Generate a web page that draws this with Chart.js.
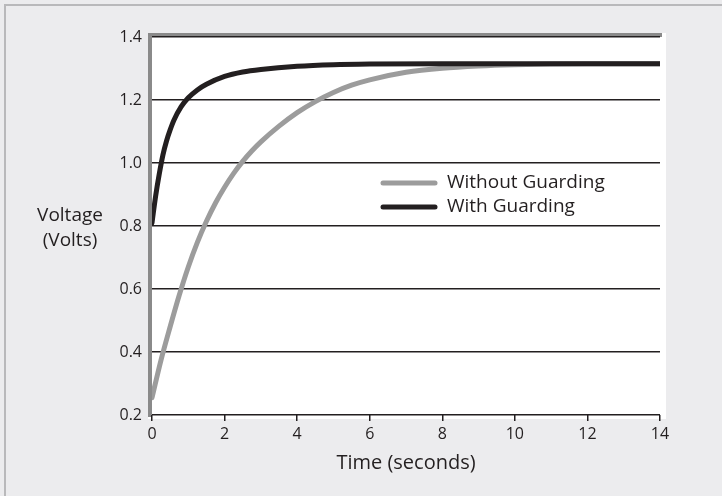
<!DOCTYPE html>
<html>
<head>
<meta charset="utf-8">
<title>Voltage vs Time</title>
<script src="https://cdn.jsdelivr.net/npm/chart.js@4.4.0/dist/chart.umd.min.js"></script>
<style>
  html, body { margin: 0; padding: 0; background: #ececee; }
  #wrap { position: relative; width: 722px; height: 496px; overflow: hidden; }
  #frame { position: absolute; left: 4px; top: 4px; width: 760px; height: 540px;
           border-top: 2px solid #b9b9bb; border-left: 2px solid #b9b9bb; }
  canvas { position: absolute; left: 0; top: 0; }
  #ylabel { position: absolute; left: 20px; width: 100px; top: 202px; text-align: center;
            font: 19px "Open Sans", sans-serif; line-height: 25px; color: #231f20; }
</style>
</head>
<body>
<div id="wrap">
  <div id="frame"></div>
  <canvas id="chart" width="722" height="496"></canvas>
  <div id="ylabel">Voltage<br>(Volts)</div>
</div>
<script>
// Data
const timeWithout = [0, 0.25, 0.5, 0.75, 1, 1.25, 1.5, 1.75, 2, 2.25, 2.5, 2.75, 3, 3.5, 4, 4.5, 5, 5.5, 6, 7, 8, 9, 10, 11, 12, 14];
const voltsWithout = [0.255, 0.375, 0.48, 0.58, 0.67, 0.748, 0.815, 0.873, 0.923, 0.967, 1.005, 1.038, 1.067,
  1.117, 1.16, 1.195, 1.224, 1.247, 1.264, 1.288, 1.301, 1.308, 1.312, 1.314, 1.315, 1.315];

const timeWith = [0, 0.1, 0.2, 0.3, 0.4, 0.5, 0.6, 0.8, 1, 1.25, 1.5, 2, 2.5, 3, 4, 5, 6, 8, 10, 14];
const voltsWith = [0.81, 0.895, 0.965, 1.025, 1.07, 1.105, 1.135, 1.178, 1.207, 1.232, 1.25, 1.275,
  1.289, 1.297, 1.307, 1.312, 1.314, 1.315, 1.315, 1.315];

const seriesLabels = ["Without Guarding", "With Guarding"];
const xTicks = [0, 2, 4, 6, 8, 10, 12, 14];
const yTicks = [0.2, 0.4, 0.6, 0.8, 1.0, 1.2, 1.4];

const ink = "#231f20";
const font = "'Open Sans', sans-serif";

const toPoints = (xs, ys) => xs.map((x, i) => ({ x: x, y: ys[i] }));

// white plot panel with the grey bevel on top and left
const panel = {
  id: "panel",
  beforeDraw(chart) {
    const { ctx, chartArea: a } = chart;
    ctx.save();
    ctx.fillStyle = "#ffffff";
    ctx.fillRect(a.left - 4, a.top - 4, a.right - a.left + 10, a.bottom - a.top + 8);
    ctx.fillStyle = "#8a8a8a";
    ctx.fillRect(a.left - 4, a.top - 4, a.right - a.left + 6, 4);
    ctx.fillRect(a.left - 4, a.top - 4, 4, a.bottom - a.top + 6);
    ctx.restore();
  }
};

// legend drawn inside the plot area
const innerLegend = {
  id: "innerLegend",
  afterDraw(chart) {
    const { ctx, chartArea: a } = chart;
    const x0 = a.left + 231, y0 = a.top + 146;
    ctx.save();
    ctx.font = "19px " + font;
    ctx.textBaseline = "middle";
    ctx.lineCap = "round";
    chart.data.datasets.forEach((ds, i) => {
      const y = y0 + i * 24;
      ctx.strokeStyle = ds.borderColor;
      ctx.lineWidth = ds.borderWidth;
      ctx.beginPath();
      ctx.moveTo(x0, y);
      ctx.lineTo(x0 + 52, y);
      ctx.stroke();
      ctx.fillStyle = ink;
      ctx.fillText(ds.label, x0 + 64, y);
    });
    ctx.restore();
  }
};

new Chart(document.getElementById("chart"), {
  type: "line",
  data: {
    datasets: [
      {
        label: seriesLabels[0],
        data: toPoints(timeWithout, voltsWithout),
        borderColor: "#9c9c9c",
        borderWidth: 5,
        borderCapStyle: "round",
        pointRadius: 0,
        cubicInterpolationMode: "monotone",
        order: 1
      },
      {
        label: seriesLabels[1],
        data: toPoints(timeWith, voltsWith),
        borderColor: ink,
        borderWidth: 5,
        borderCapStyle: "round",
        pointRadius: 0,
        cubicInterpolationMode: "monotone",
        order: 0
      }
    ]
  },
  options: {
    responsive: false,
    animation: false,
    layout: { padding: { left: 0, top: 37, right: 62, bottom: 0 } },
    plugins: { legend: { display: false }, tooltip: { enabled: false } },
    scales: {
      x: {
        type: "linear",
        min: 0,
        max: 14,
        afterBuildTicks: (s) => { s.ticks = xTicks.map((v) => ({ value: v })); },
        afterFit: (s) => { s.height = 81; },
        border: { display: false },
        grid: { drawOnChartArea: false, drawTicks: true, tickLength: 6, color: ink, lineWidth: 1.5 },
        ticks: { color: ink, padding: 4, font: { family: font, size: 16 } },
        title: {
          display: true,
          text: "Time (seconds)",
          color: ink,
          font: { family: font, size: 20 },
          padding: { top: 0, bottom: 21 }
        }
      },
      y: {
        min: 0.2,
        max: 1.4,
        afterBuildTicks: (s) => { s.ticks = yTicks.map((v) => ({ value: v })); },
        afterFit: (s) => { s.width = 152; },
        border: { display: false },
        grid: { drawTicks: false, color: ink, lineWidth: 1.5 },
        ticks: {
          color: ink,
          padding: 10,
          font: { family: font, size: 16 },
          callback: (v) => Number(v).toFixed(1)
        }
      }
    }
  },
  plugins: [panel, innerLegend]
});
</script>
</body>
</html>
